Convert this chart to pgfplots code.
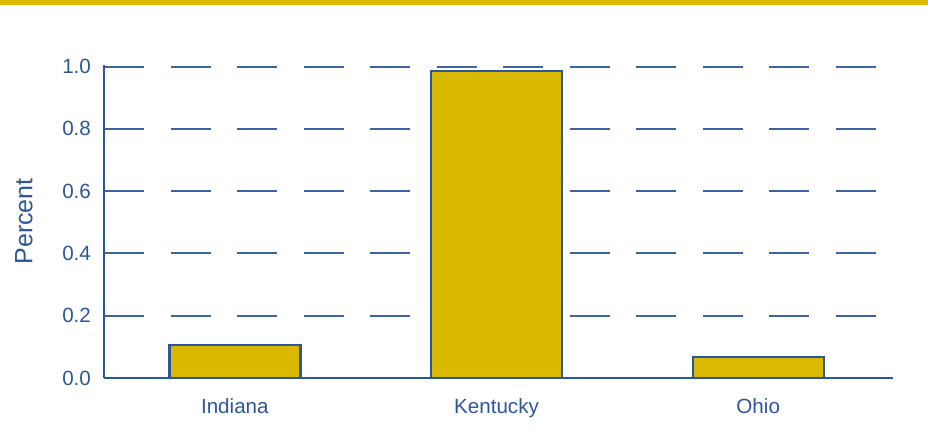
\documentclass[border=0pt]{standalone}
\usepackage{pgfplots}
\pgfplotsset{compat=1.18}
\usepackage{fontspec}
\setmainfont{Liberation Sans}
\definecolor{gold}{RGB}{217,184,0}
\definecolor{navy}{RGB}{43,87,154}
\definecolor{gridblue}{RGB}{60,100,165}
\begin{document}
\begin{tikzpicture}[font=\fontsize{10.3}{12}\selectfont]
  \path (-52pt,-32pt) rectangle (412pt,189pt);
  \fill[gold] (-52pt,186.5pt) rectangle (412pt,189pt);
  \begin{axis}[
    at={(0,0)}, anchor=south west,
    scale only axis,
    width=394.5pt, height=156.5pt,
    xmin=-0.5, xmax=2.515,
    ymin=0, ymax=1.005,
    axis x line=bottom, axis y line=left,
    axis line style={-, navy, line width=1.4pt},
    xtick=data,
    xticklabels={Indiana,Kentucky,Ohio},
    ytick={0,0.2,0.4,0.6,0.8,1.0},
    /pgf/number format/fixed,
    /pgf/number format/fixed zerofill,
    /pgf/number format/precision=1,
    /pgf/number format/assume math mode=true,
    major tick length=0pt,
    tick style={draw=none},
    ticklabel style={text=navy},
    yticklabel style={xshift=-3pt},
    xticklabel style={yshift=-7pt},
    ymajorgrids,
    major grid style={gridblue, line width=1pt, dash pattern=on 20pt off 13.27pt},
    ylabel={Percent},
    ylabel style={text=navy, font=\fontsize{12.5}{14}\selectfont, yshift=8pt},
    ybar, bar width=65.5pt,
  ]
    \addplot[fill=gold, draw=navy, line width=1.2pt] coordinates {
      (0,0.105)
      (1,0.985)
      (2,0.067)
    };
  \end{axis}
\end{tikzpicture}
\end{document}
